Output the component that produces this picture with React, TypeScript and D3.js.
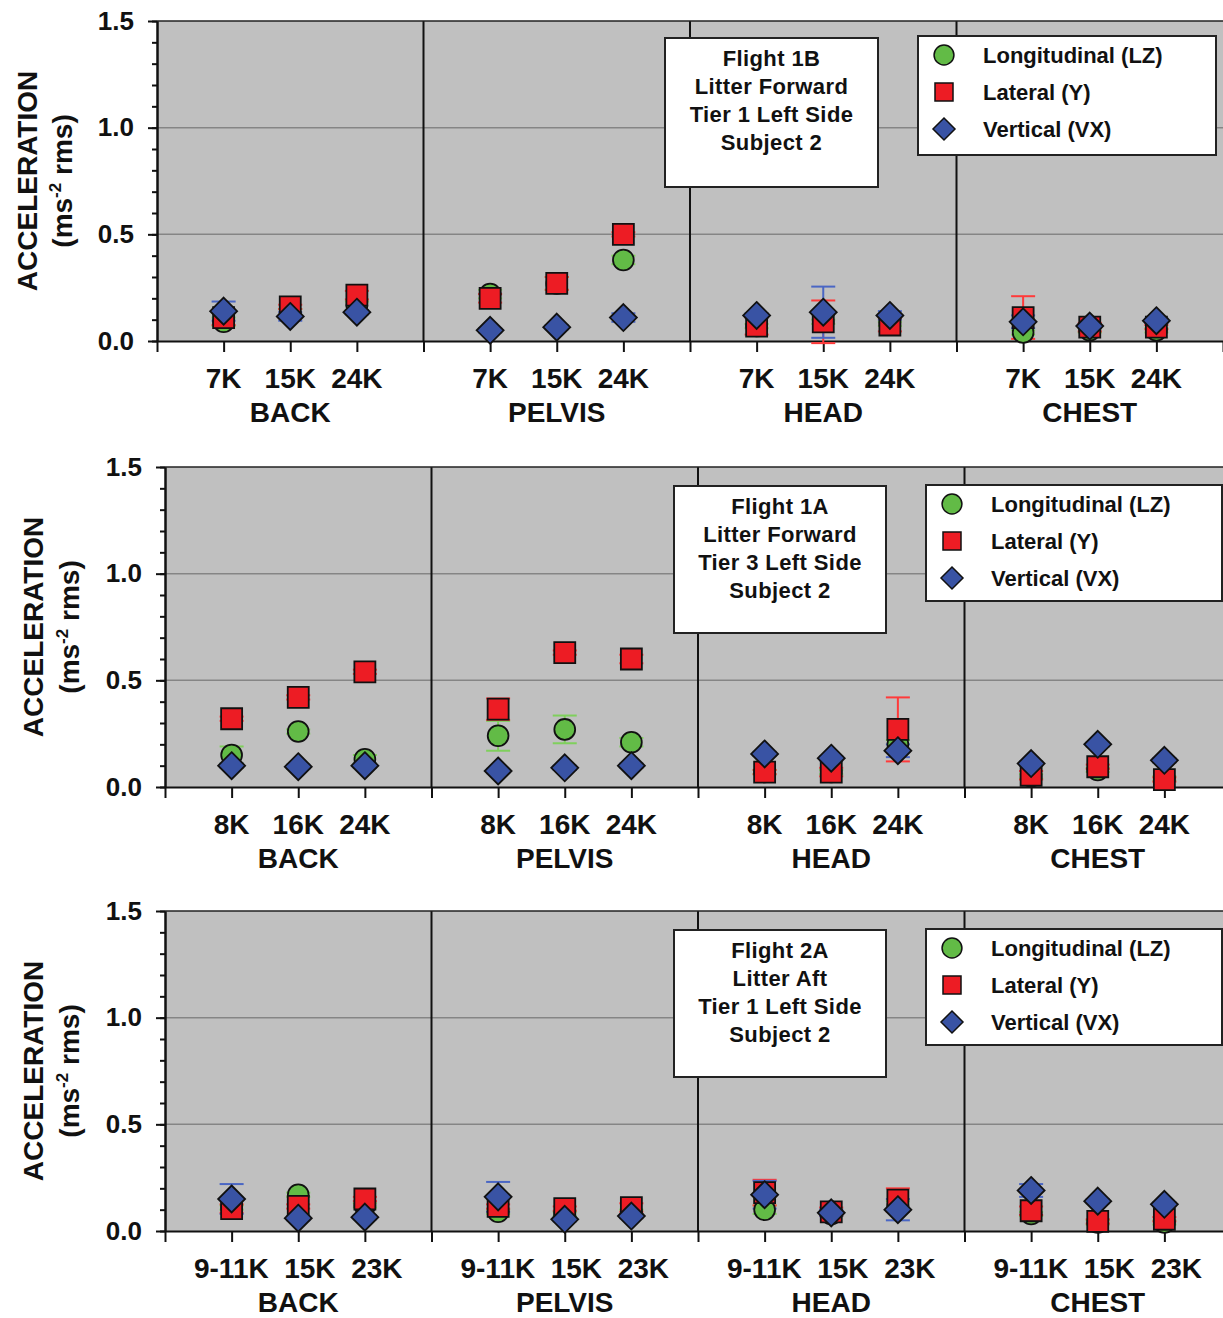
import React, { useEffect, useRef } from 'react';
import * as d3 from 'd3';

// body parts along the x axis, three altitudes each
const groups = ['BACK', 'PELVIS', 'HEAD', 'CHEST'];
const alt1 = ['7K', '15K', '24K'];
const alt2 = ['8K', '16K', '24K'];
const alt3 = ['9-11K', '15K', '23K'];
const seriesNames = ['Longitudinal (LZ)', 'Lateral (Y)', 'Vertical (VX)'];

// Flight 1B (values in order BACK x3, PELVIS x3, HEAD x3, CHEST x3)
const lz1 = [0.09, 0.13, 0.165, 0.22, 0.27, 0.38, 0.07, 0.09, 0.08, 0.04, 0.05, 0.05];
const lat1 = [0.11, 0.16, 0.215, 0.2, 0.27, 0.5, 0.07, 0.09, 0.075, 0.11, 0.065, 0.065];
const vert1 = [0.14, 0.115, 0.135, 0.05, 0.065, 0.11, 0.12, 0.135, 0.12, 0.09, 0.07, 0.095];
const lz1Err = [0.02, 0.02, 0.02, 0.02, 0.03, 0.02, 0.01, 0.01, 0.01, 0.01, 0.01, 0.01];
const lat1Err = [0.035, 0.01, 0.02, 0.02, 0.03, 0.01, 0.04, 0.1, 0.03, 0.1, 0.02, 0.01];
const vert1Err = [0.045, 0.02, 0.01, 0.01, 0.01, 0.02, 0.01, 0.12, 0.02, 0.03, 0.01, 0.01];

// Flight 1A
const lz2 = [0.15, 0.26, 0.13, 0.24, 0.27, 0.21, 0.07, 0.07, 0.2, 0.05, 0.08, 0.04];
const lat2 = [0.32, 0.42, 0.54, 0.365, 0.63, 0.6, 0.07, 0.07, 0.27, 0.055, 0.095, 0.035];
const vert2 = [0.1, 0.095, 0.1, 0.075, 0.09, 0.1, 0.155, 0.135, 0.17, 0.11, 0.2, 0.125];
const lz2Err = [0.04, 0.01, 0.02, 0.07, 0.065, 0.02, 0.01, 0.01, 0.02, 0.01, 0.01, 0.01];
const lat2Err = [0.01, 0.01, 0.01, 0.05, 0.01, 0.02, 0.01, 0.02, 0.15, 0.02, 0.01, 0.01];
const vert2Err = [0.01, 0.01, 0.01, 0.01, 0.01, 0.01, 0.01, 0.01, 0.03, 0.01, 0.01, 0.01];

// Flight 2A
const lz3 = [0.11, 0.17, 0.12, 0.09, 0.08, 0.09, 0.1, 0.08, 0.12, 0.08, 0.04, 0.04];
const lat3 = [0.105, 0.115, 0.15, 0.115, 0.105, 0.11, 0.18, 0.09, 0.145, 0.095, 0.045, 0.055];
const vert3 = [0.15, 0.06, 0.065, 0.16, 0.055, 0.07, 0.17, 0.085, 0.1, 0.19, 0.14, 0.125];
const lz3Err = [0.01, 0.01, 0.01, 0.01, 0.01, 0.01, 0.02, 0.01, 0.02, 0.01, 0.01, 0.01];
const lat3Err = [0.02, 0.01, 0.01, 0.01, 0.01, 0.02, 0.06, 0.02, 0.055, 0.02, 0.01, 0.01];
const vert3Err = [0.07, 0.01, 0.01, 0.07, 0.01, 0.01, 0.065, 0.015, 0.05, 0.03, 0.01, 0.01];

const note1 = ['Flight 1B', 'Litter Forward', 'Tier 1 Left Side', 'Subject 2'];
const note2 = ['Flight 1A', 'Litter Forward', 'Tier 3 Left Side', 'Subject 2'];
const note3 = ['Flight 2A', 'Litter Aft', 'Tier 1 Left Side', 'Subject 2'];

const FONT = '"Liberation Sans", Arial, sans-serif';
const fills = ['#62bb46', '#ed1c24', '#3953a4'];
const errColors = ['#7fd05c', '#ff3a3a', '#4a66c4'];

// joined: altitude labels written as one line centred under the group (long labels)
const panels = [
  { top: 21, left: 157, alts: alt1, joined: false, series: [lz1, lat1, vert1], errs: [lz1Err, lat1Err, vert1Err], note: note1,
    t1: 37, t2: 72, box: [665, 38, 213, 149], leg: [918, 36, 298, 119] },
  { top: 467, left: 165, alts: alt2, joined: false, series: [lz2, lat2, vert2], errs: [lz2Err, lat2Err, vert2Err], note: note2,
    t1: 43, t2: 79, box: [674, 486, 212, 147], leg: [926, 485, 296, 116] },
  { top: 911, left: 165, alts: alt3, joined: true, series: [lz3, lat3, vert3], errs: [lz3Err, lat3Err, vert3Err], note: note3,
    t1: 43, t2: 79, box: [674, 930, 212, 147], leg: [926, 929, 296, 116] },
];

const markerPath = (s, big) => {
  if (s === 0) return d3.symbol(d3.symbolCircle, big ? 340 : 310)();
  if (s === 1) return d3.symbol(d3.symbolSquare, big ? 441 : 324)();
  const h = big ? 13.5 : 11;
  return `M0,${-h}L${h},0L0,${h}L${-h},0Z`;
};

const boldText = (sel, size) =>
  sel.attr('font-family', FONT).attr('font-weight', 'bold').attr('font-size', size).attr('fill', '#111');

const draw = (el) => {
  const svg = d3.select(el);
  svg.selectAll('*').remove();

  panels.forEach((p) => {
    const g = svg.append('g');
    const x = d3.scaleLinear().domain([0, 16]).range([p.left, p.left + 1066]);
    const y = d3.scaleLinear().domain([0, 1.5]).range([p.top + 320, p.top]);

    g.append('rect')
      .attr('x', x(0)).attr('y', y(1.5))
      .attr('width', x(16) - x(0)).attr('height', y(0) - y(1.5))
      .attr('fill', '#c0c0c0');

    g.selectAll('.grid').data([0.5, 1.0]).join('line')
      .attr('x1', x(0)).attr('x2', x(16))
      .attr('y1', d => y(d)).attr('y2', d => y(d))
      .attr('stroke', '#858585').attr('stroke-width', 1.5);

    g.selectAll('.div').data([4, 8, 12]).join('line')
      .attr('x1', d => x(d)).attr('x2', d => x(d))
      .attr('y1', y(1.5)).attr('y2', y(0))
      .attr('stroke', '#111').attr('stroke-width', 2);

    g.append('line')
      .attr('x1', x(0)).attr('x2', x(16)).attr('y1', y(1.5)).attr('y2', y(1.5))
      .attr('stroke', '#222').attr('stroke-width', 1.5);

    // y axis, minor then major ticks
    const yMinor = g.append('g').attr('transform', `translate(${x(0)},0)`);
    d3.axisLeft(y).tickValues(d3.range(0, 16).map(i => i / 10)).tickSize(5).tickSizeOuter(0).tickFormat(() => '')(yMinor);
    const yMajor = g.append('g').attr('transform', `translate(${x(0)},0)`);
    d3.axisLeft(y).tickValues([0, 0.5, 1, 1.5]).tickSize(9).tickSizeOuter(0).tickPadding(14)
      .tickFormat(d3.format('.1f'))(yMajor);
    [yMinor, yMajor].forEach(a => {
      a.selectAll('line, path').attr('stroke', '#111').attr('stroke-width', 2);
    });
    boldText(yMajor.selectAll('text'), 26);

    // x axis
    const xAxis = g.append('g').attr('transform', `translate(0,${y(0)})`);
    d3.axisBottom(x).tickValues(d3.range(0, 17)).tickSize(11).tickSizeOuter(0).tickFormat(() => '')(xAxis);
    xAxis.selectAll('line, path').attr('stroke', '#111').attr('stroke-width', 2);

    groups.forEach((name, gi) => {
      if (p.joined) {
        boldText(g.append('text'), 28)
          .attr('x', x(gi * 4 + 2)).attr('y', y(0) + 47)
          .attr('text-anchor', 'middle')
          .style('white-space', 'pre')
          .text(p.alts.join('  '));
      } else {
        p.alts.forEach((a, ai) => {
          boldText(g.append('text'), 28)
            .attr('x', x(gi * 4 + ai + 1)).attr('y', y(0) + 47)
            .attr('text-anchor', 'middle')
            .text(a);
        });
      }
      boldText(g.append('text'), 28)
        .attr('x', x(gi * 4 + 2)).attr('y', y(0) + 81)
        .attr('text-anchor', 'middle')
        .text(name);
    });

    // y title
    const cy = (y(0) + y(1.5)) / 2;
    boldText(g.append('text'), 28)
      .attr('transform', `translate(${p.t1},${cy}) rotate(-90)`)
      .attr('text-anchor', 'middle')
      .text('ACCELERATION');
    const t2 = boldText(g.append('text'), 28)
      .attr('transform', `translate(${p.t2},${cy}) rotate(-90)`)
      .attr('text-anchor', 'middle');
    t2.append('tspan').text('(ms');
    t2.append('tspan').attr('dy', -11).attr('font-size', 17).text('-2');
    t2.append('tspan').attr('dy', 11).text(' rms)');

    // error bars
    const pos = (i) => x(Math.floor(i / 3) * 4 + (i % 3) + 1);
    p.series.forEach((vals, s) => {
      vals.forEach((v, i) => {
        const e = p.errs[s][i];
        const cx = pos(i);
        const eg = g.append('g').attr('stroke', errColors[s]).attr('stroke-width', 2);
        eg.append('line').attr('x1', cx).attr('x2', cx).attr('y1', y(v - e)).attr('y2', y(v + e));
        eg.append('line').attr('x1', cx - 12).attr('x2', cx + 12).attr('y1', y(v + e)).attr('y2', y(v + e));
        eg.append('line').attr('x1', cx - 12).attr('x2', cx + 12).attr('y1', y(v - e)).attr('y2', y(v - e));
      });
    });

    // markers
    p.series.forEach((vals, s) => {
      g.selectAll(null).data(vals).join('path')
        .attr('d', markerPath(s, true))
        .attr('transform', (d, i) => `translate(${pos(i)},${y(d)})`)
        .attr('fill', fills[s]).attr('stroke', '#111').attr('stroke-width', 1.8);
    });

    // annotation box
    const [bx, by, bw, bh] = p.box;
    g.append('rect').attr('x', bx).attr('y', by).attr('width', bw).attr('height', bh)
      .attr('fill', '#fff').attr('stroke', '#222').attr('stroke-width', 2);
    p.note.forEach((line, li) => {
      boldText(g.append('text'), 22)
        .attr('x', bx + bw / 2).attr('y', by + 20 + li * 28)
        .attr('dy', '0.36em')
        .attr('text-anchor', 'middle')
        .attr('letter-spacing', 0.4)
        .text(line);
    });

    // legend
    const [lx, ly, lw, lh] = p.leg;
    g.append('rect').attr('x', lx).attr('y', ly).attr('width', lw).attr('height', lh)
      .attr('fill', '#fff').attr('stroke', '#222').attr('stroke-width', 2);
    seriesNames.forEach((name, s) => {
      const ry = ly + 19 + s * 37;
      g.append('path').attr('d', markerPath(s, false))
        .attr('transform', `translate(${lx + 26},${ry})`)
        .attr('fill', fills[s]).attr('stroke', '#111').attr('stroke-width', 1.5);
      boldText(g.append('text'), 22)
        .attr('x', lx + 65).attr('y', ry).attr('dy', '0.36em')
        .text(name);
    });
  });
};

const App = () => {
  const ref = useRef(null);
  useEffect(() => {
    draw(ref.current);
  }, []);
  return (
    <svg ref={ref} width={1223} height={1318}
      style={{ position: 'absolute', left: 0, top: 0, background: '#fff' }} />
  );
};

export default App;
